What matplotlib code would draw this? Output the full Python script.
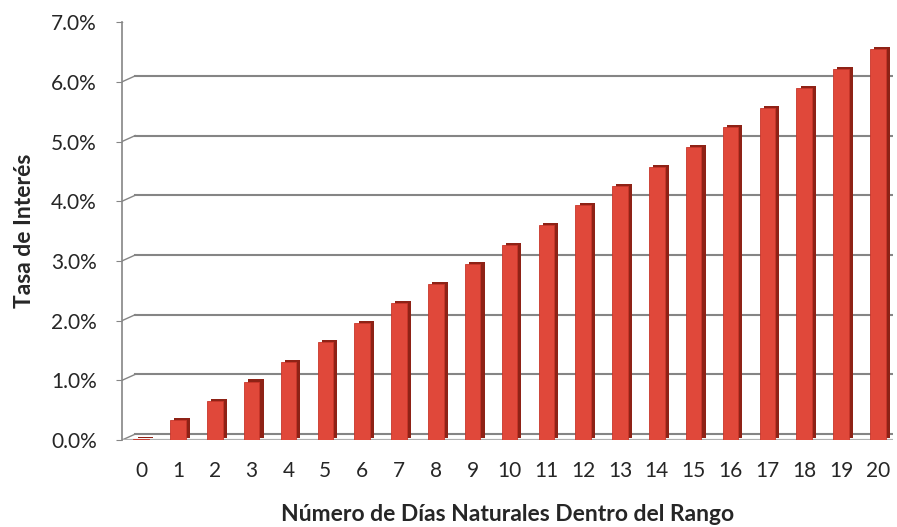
import matplotlib.pyplot as plt
import matplotlib.patheffects as pe
from matplotlib.ticker import FuncFormatter

# Datos
dias = list(range(0, 21))
tasa = [0.02, 0.33, 0.65, 0.98, 1.31, 1.64, 1.96, 2.29, 2.62, 2.95, 3.27,
        3.60, 3.93, 4.25, 4.58, 4.91, 5.24, 5.56, 5.89, 6.22, 6.55]
marcas_y = [0, 1, 2, 3, 4, 5, 6, 7]

plt.rcParams['font.family'] = ['Lato', 'DejaVu Sans']

fig = plt.figure(figsize=(8.97, 5.27), dpi=100)
ax = fig.add_axes([0.136, 0.165, 0.8595, 0.793])

xmin, xmax = -0.52, 20.41
x_pared = -0.16
desfase = 0.1
color_rejilla = '#858585'
color_texto = '#262626'

# pared del fondo con rejilla y pequeño tramo inclinado a la izquierda
for y in marcas_y:
    ax.plot([x_pared, xmax], [y + desfase, y + desfase], color=color_rejilla, lw=1.5, zorder=1)
    ax.plot([xmin, x_pared], [y, y + desfase], color=color_rejilla, lw=1.0, zorder=1)
ax.plot([xmin, xmax], [0, 0], color='#b0b0b0', lw=1.6, zorder=1)

sombra = [pe.SimplePatchShadow(offset=(3, 1.5), shadow_rgbFace='#8e2216', alpha=1.0),
          pe.Normal()]
barras = ax.bar(dias, tasa, width=0.42, bottom=0.0, color='#e0483a',
                edgecolor='#c8362a', linewidth=0.6, zorder=3)
for b in barras:
    b.set_path_effects(sombra)

ax.set_xlim(xmin, xmax)
ax.set_ylim(0, 7)
ax.set_xticks(dias)
ax.set_yticks(marcas_y)
ax.yaxis.set_major_formatter(FuncFormatter(lambda v, p: f'{v:.1f}%'))

for s in ['top', 'right', 'bottom']:
    ax.spines[s].set_visible(False)
ax.spines['left'].set_color(color_rejilla)
ax.spines['left'].set_linewidth(1.2)
ax.tick_params(axis='x', length=0, pad=15, labelsize=15, colors=color_texto)
ax.tick_params(axis='y', length=4, color=color_rejilla, pad=14, labelsize=15, colors=color_texto)
for t in ax.get_yticklabels():
    t.set_color(color_texto)

ax.set_xlabel('Número de Días Naturales Dentro del Rango', fontsize=16.5,
              fontweight='bold', color=color_texto, labelpad=17)
ax.set_ylabel('Tasa de Interés', fontsize=16.5, fontweight='bold',
              color=color_texto, labelpad=12)

fig.savefig('out.png', dpi=100)
